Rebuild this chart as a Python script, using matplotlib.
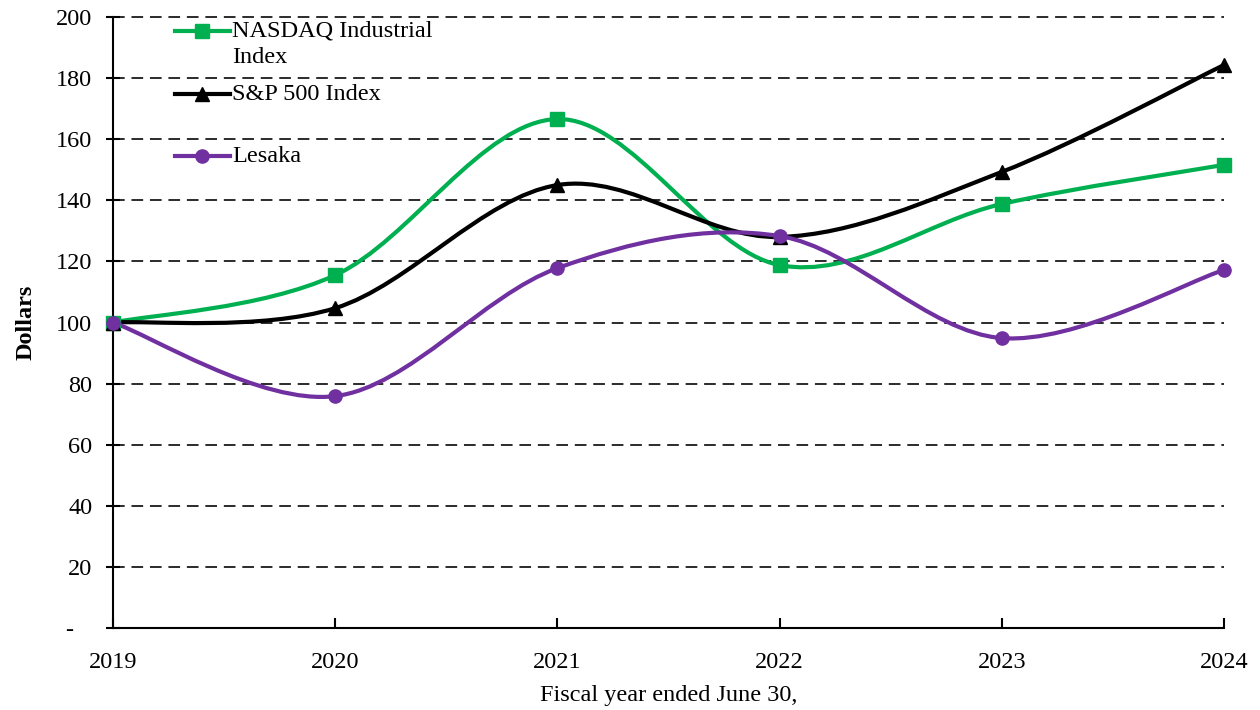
import numpy as np
import matplotlib
matplotlib.use("Agg")
import matplotlib.pyplot as plt
from matplotlib.path import Path
from matplotlib.patches import PathPatch
from matplotlib.lines import Line2D

plt.rcParams['font.family'] = ['Liberation Serif', 'DejaVu Serif']

years = [2019, 2020, 2021, 2022, 2023, 2024]
nasdaq = [100, 115.5, 166.6, 118.8, 138.8, 151.6]
sp500 = [100, 104.7, 145.0, 128.0, 149.3, 184.3]
lesaka = [100, 75.9, 117.8, 128.3, 94.9, 117.2]

series = [
    ("NASDAQ Industrial\nIndex", nasdaq, "#00B050", "s"),
    ("S&P 500 Index", sp500, "#000000", "^"),
    ("Lesaka", lesaka, "#7030A0", "o"),
]
yticks = [0, 20, 40, 60, 80, 100, 120, 140, 160, 180, 200]
ytick_labels = ["-   "] + [str(v) for v in yticks[1:]]
FS = 17.5


def smooth_path(x, y):
    # excel-like smoothed line: cubic bezier through the points
    p = np.column_stack([x, y]).astype(float)
    n = len(p)
    verts = [p[0]]
    codes = [Path.MOVETO]
    for i in range(n - 1):
        p0 = p[max(i - 1, 0)]
        p3 = p[min(i + 2, n - 1)]
        c1 = p[i] + (p[i + 1] - p0) / 6.0
        c2 = p[i + 1] - (p3 - p[i]) / 6.0
        verts += [c1, c2, p[i + 1]]
        codes += [Path.CURVE4] * 3
    return Path(verts, codes)


fig = plt.figure(figsize=(12.6, 7.1), dpi=100)
ax = fig.add_axes([0.0897, 0.1155, 0.8817, 0.8605])

for label, vals, col, mk in series:
    ax.add_patch(PathPatch(smooth_path(years, vals), facecolor="none",
                           edgecolor=col, lw=3, zorder=3, capstyle="round"))
    ax.plot(years, vals, ls="none", marker=mk, color=col, ms=9.5, zorder=4,
            clip_on=False)

ax.set_xlim(2019, 2024)
ax.set_ylim(0, 200)
ax.set_yticks(yticks)
ax.set_yticklabels(ytick_labels)
ax.set_xticks(years)
ax.tick_params(axis="both", labelsize=FS, color="black", width=1.5)
ax.tick_params(axis="y", direction="inout", length=10, pad=10)
ax.tick_params(axis="x", direction="in", length=7, pad=17)
for v in yticks[1:]:
    ax.axhline(v, color="#2b2b2b", ls=(0, (6, 3.5)), lw=1.4, zorder=1,
               clip_on=False)
for s in ["top", "right"]:
    ax.spines[s].set_visible(False)
for s in ["left", "bottom"]:
    ax.spines[s].set_linewidth(1.5)
ax.set_ylabel("Dollars", fontsize=FS, fontweight="bold")
ax.yaxis.set_label_coords(-0.069, 0.5)
ax.set_xlabel("Fiscal year ended June 30,", fontsize=FS, labelpad=9)

# legend drawn by hand so the handle sits on the first text line
leg_y = [0.977, 0.874, 0.7725]
for (label, vals, col, mk), yy in zip(series, leg_y):
    ax.add_line(Line2D([0.0558, 0.1053], [yy, yy], transform=ax.transAxes,
                       color=col, lw=3, zorder=5, clip_on=False))
    ax.plot([0.0805], [yy], transform=ax.transAxes, marker=mk, color=col,
            ms=9.5, zorder=6, clip_on=False)
    ax.text(0.107, yy + 0.017, label, transform=ax.transAxes, fontsize=FS,
            va="top", ha="left", linespacing=1.3)

fig.savefig("out.png", dpi=100)
